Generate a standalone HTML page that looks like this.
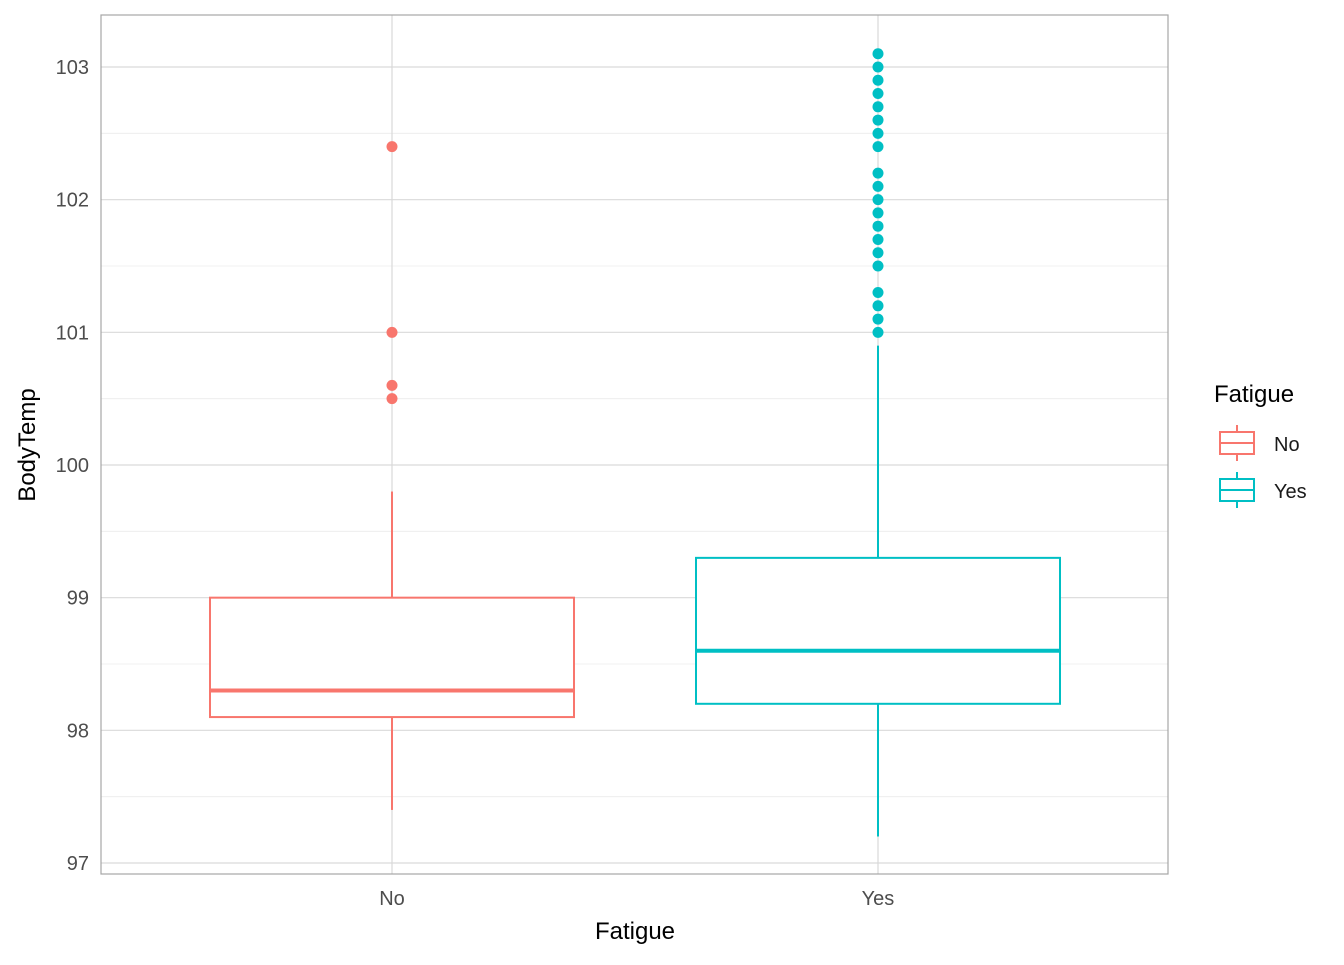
<!DOCTYPE html>
<html><head><meta charset="utf-8"><style>
body{margin:0;background:#fff}
svg text{font-family:"Liberation Sans",Arial,sans-serif}
</style></head><body>
<svg id="chart" width="1344" height="960">
<rect x="0" y="0" width="1344" height="960" fill="#fff"/>
<g id="grid"></g>
<g id="marks"></g>
<rect x="101" y="15" width="1067" height="859" fill="none" stroke="#a6a6a6" stroke-width="1.2"/>
<g id="axes"></g>
<text x="635" y="939" font-size="24" text-anchor="middle" fill="#000">Fatigue</text>
<text transform="translate(35,445) rotate(-90)" font-size="24" text-anchor="middle" fill="#000">BodyTemp</text>
<g>
<text x="1214" y="402" font-size="24" fill="#000">Fatigue</text>
<g>
<line x1="1237" y1="425" x2="1237" y2="461" stroke="#F8766D" stroke-width="2"/>
<rect x="1220" y="432" width="34" height="22" fill="#fff" stroke="#F8766D" stroke-width="2"/>
<line x1="1220" y1="443" x2="1254" y2="443" stroke="#F8766D" stroke-width="2"/>
<text x="1274" y="451" font-size="20" fill="#1a1a1a">No</text></g>
<g>
<line x1="1237" y1="472" x2="1237" y2="508" stroke="#00BFC4" stroke-width="2"/>
<rect x="1220" y="479" width="34" height="22" fill="#fff" stroke="#00BFC4" stroke-width="2"/>
<line x1="1220" y1="490" x2="1254" y2="490" stroke="#00BFC4" stroke-width="2"/>
<text x="1274" y="498" font-size="20" fill="#1a1a1a">Yes</text></g>
</g>
</svg>
<script>
const categories=["No","Yes"];
const colors=["#F8766D","#00BFC4"];
const whiskerLow=[97.4,97.2];
const q1=[98.1,98.2];
const median=[98.3,98.6];
const q3=[99.0,99.3];
const whiskerHigh=[99.8,100.9];
const outliersNo=[100.5,100.6,101.0,102.4];
const outliersYes=[101.0,101.1,101.2,101.3,101.5,101.6,101.7,101.8,101.9,102.0,102.1,102.2,102.4,102.5,102.6,102.7,102.8,102.9,103.0,103.1];
const yTicks=[97,98,99,100,101,102,103];
const NS="http://www.w3.org/2000/svg";
function y(v){return 863+(v-97)*(67-863)/6;}
function x(i){return 392+i*486;}
const halfW=182;
function mk(tag,attrs,parent){const e=document.createElementNS(NS,tag);for(const k in attrs)e.setAttribute(k,attrs[k]);parent.appendChild(e);return e;}
const grid=document.getElementById('grid'),marks=document.getElementById('marks'),axes=document.getElementById('axes');
for(let v=97;v<=103.01;v+=0.5){
 const major=Math.abs(v-Math.round(v))<1e-6;
 const l=mk('line',{x1:101,x2:1168,y1:y(v),y2:y(v),stroke:major?'#d9d9d9':'#ebebeb','stroke-width':major?1.2:0.8},grid);
 
 
}
categories.forEach((c,i)=>{
 const l=mk('line',{x1:x(i),x2:x(i),y1:15,y2:874,stroke:'#d9d9d9','stroke-width':1.2},grid);
 
 
 const t=mk('text',{x:x(i),y:905,'font-size':20,'text-anchor':'middle',fill:'#4d4d4d'},axes);
 t.textContent=c;
 
 
});
yTicks.forEach(v=>{
 const t=mk('text',{x:89,y:y(v)+7,'font-size':20,'text-anchor':'end',fill:'#4d4d4d'},axes);
 t.textContent=v;
 
 
});
const outs=[outliersNo,outliersYes];
categories.forEach((c,i)=>{
 const g=mk('g',{},marks);
 
 
 const col=colors[i],cx=x(i);
 mk('line',{x1:cx,x2:cx,y1:y(q3[i]),y2:y(whiskerHigh[i]),stroke:col,'stroke-width':2},g);
 mk('line',{x1:cx,x2:cx,y1:y(q1[i]),y2:y(whiskerLow[i]),stroke:col,'stroke-width':2},g);
 mk('rect',{x:cx-halfW,y:y(q3[i]),width:2*halfW,height:y(q1[i])-y(q3[i]),fill:'#fff',stroke:col,'stroke-width':2},g);
 mk('line',{x1:cx-halfW,x2:cx+halfW,y1:y(median[i]),y2:y(median[i]),stroke:col,'stroke-width':4},g);
 outs[i].forEach(v=>{
  const p=mk('circle',{cx:cx,cy:y(v),r:5.5,fill:col},g);
  
  
 });
});
</script>
</body></html>
